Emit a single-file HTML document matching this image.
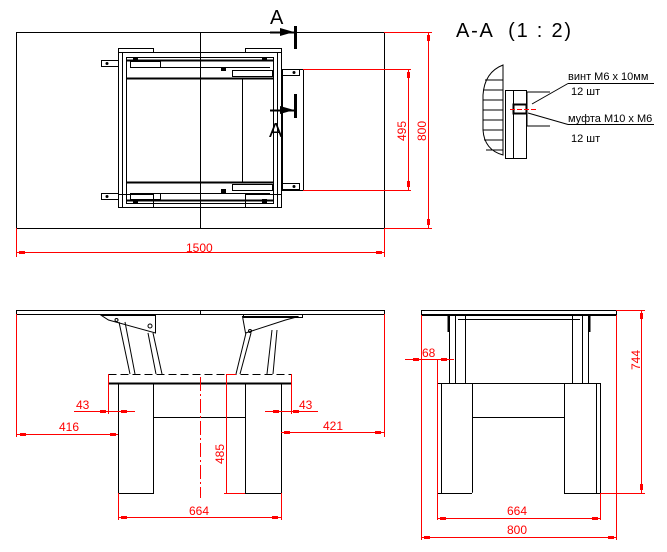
<!DOCTYPE html>
<html><head><meta charset="utf-8"><style>
html,body{margin:0;padding:0;background:#fff;}
svg{display:block;}
text{font-family:"Liberation Sans",sans-serif;}
</style></head><body>
<svg width="667" height="552" viewBox="0 0 667 552" xmlns="http://www.w3.org/2000/svg">
<g fill="none" stroke="#000" stroke-width="1">
<!-- TOP VIEW -->
<rect x="16.5" y="32.5" width="368" height="196"/>
<line x1="200.5" y1="32" x2="200.5" y2="228"/>
<rect x="118.5" y="48.5" width="35" height="4"/>
<rect x="245.5" y="48.5" width="36" height="4"/>
<rect x="118.5" y="194.5" width="35" height="13"/>
<rect x="245.5" y="194.5" width="36" height="13"/>
<rect x="118.5" y="52.5" width="4" height="155"/>
<rect x="277.5" y="52.5" width="4" height="155"/>
<rect x="122.5" y="52.5" width="155" height="155"/>
<rect x="126.5" y="57.5" width="147" height="146"/>
<line x1="126" y1="78.5" x2="274" y2="78.5" stroke-width="2"/>
<line x1="126" y1="182.5" x2="274" y2="182.5" stroke-width="2"/>
<line x1="126" y1="60.5" x2="274" y2="60.5" stroke-width="2"/>
<line x1="126" y1="200.5" x2="274" y2="200.5" stroke-width="2"/>
<line x1="130" y1="67.5" x2="270" y2="67.5"/>
<line x1="130" y1="193.5" x2="270" y2="193.5"/>
<rect x="232.5" y="70.5" width="40" height="6"/>
<rect x="232.5" y="184.5" width="40" height="6"/>
<rect x="130.5" y="61.5" width="30" height="6"/>
<rect x="130.5" y="193.5" width="30" height="6"/>
<line x1="242.5" y1="78" x2="242.5" y2="182"/>
<rect x="101.5" y="60.5" width="17" height="6"/>
<rect x="101.5" y="193.5" width="17" height="6"/>
<rect x="282.5" y="69.5" width="17" height="6"/>
<rect x="282.5" y="183.5" width="17" height="6"/>
<rect x="282.5" y="69.5" width="21" height="121"/>
<line x1="295.5" y1="26" x2="295.5" y2="49" stroke-width="3"/>
<line x1="270" y1="32.5" x2="294" y2="32.5" stroke-width="2"/>
<line x1="295.5" y1="94" x2="295.5" y2="118" stroke-width="3"/>
<line x1="270" y1="110.5" x2="294" y2="110.5" stroke-width="2"/>
</g>
<g fill="#000">
<polygon points="294,32 280,28 280,36"/>
<polygon points="294,110 280,106 280,114"/>
<circle cx="107" cy="63.5" r="1.5"/><circle cx="107" cy="196.5" r="1.5"/>
<circle cx="294" cy="72.5" r="1.5"/><circle cx="294" cy="186.5" r="1.5"/>
<rect x="133" y="57" width="5" height="4"/><rect x="221" y="67" width="5" height="4"/><rect x="262" y="57" width="5" height="4"/>
<rect x="133" y="199" width="5" height="4"/><rect x="221" y="189" width="5" height="4"/><rect x="262" y="199" width="5" height="4"/>
</g>
<g font-size="20" fill="#000">
<text x="270" y="24">A</text>
<text x="269" y="137">A</text>
<text x="456" y="37" textLength="115" lengthAdjust="spacing" xml:space="preserve">A-A  (1 : 2)</text>
</g>

<g stroke="#f00" fill="none" stroke-width="1">
<line x1="16.5" y1="228" x2="16.5" y2="257"/>
<line x1="384.5" y1="228" x2="384.5" y2="257"/>
<line x1="16" y1="252.5" x2="384" y2="252.5"/>
<line x1="384" y1="32.5" x2="432" y2="32.5"/>
<line x1="384" y1="228.5" x2="432" y2="228.5"/>
<line x1="428.5" y1="32" x2="428.5" y2="228"/>
<line x1="303" y1="69.5" x2="411" y2="69.5"/>
<line x1="303" y1="190.5" x2="411" y2="190.5"/>
<line x1="408.5" y1="69" x2="408.5" y2="190"/>
</g>
<g fill="#f00">
<rect x="19" y="251" width="6" height="3"/><rect x="376" y="251" width="6" height="3"/>
<rect x="427" y="35" width="3" height="6"/><rect x="427" y="219" width="3" height="6"/>
<rect x="407" y="72" width="3" height="6"/><rect x="407" y="181" width="3" height="6"/>
</g>
<g fill="#f00" font-size="12">
<text x="186" y="252">1500</text>
<text transform="translate(406,141) rotate(-90)">495</text>
<text transform="translate(426,141) rotate(-90)">800</text>
</g>

<!-- FRONT VIEW -->
<g fill="none" stroke="#000" stroke-width="1">
<path d="M16.5,314.5 V310.5 H384.5 V314.5 Z"/>
<line x1="16" y1="314.5" x2="384" y2="314.5"/>
<line x1="200.5" y1="310" x2="200.5" y2="314"/>
<polygon points="101.5,315.5 155.5,315.5 155.5,333 108.5,320"/>
<polygon points="242.5,316.5 298.5,316.5 285.5,320 245.5,333"/>
<rect x="243.5" y="314.5" width="59" height="3"/>
<path d="M119,322 L130,374 M125,322 L135,374 M148,333 L156,374 M153,333 L162,374"/>
<path d="M251,333 L240,374 M246,333 L236,374 M272,330 L267,374 M277,330 L273,374"/>
<circle cx="116.5" cy="320" r="1.5"/><circle cx="150" cy="326" r="2"/>
<circle cx="250" cy="331" r="1.5"/>
<rect x="108.5" y="374.5" width="183" height="9" stroke-dasharray="8,4"/>
<line x1="108" y1="383.5" x2="291" y2="383.5" stroke-width="2"/>
<rect x="118.5" y="383.5" width="35" height="110"/>
<rect x="245.5" y="383.5" width="36" height="110"/>
<line x1="153" y1="417.5" x2="245" y2="417.5"/>
</g>
<g stroke="#f00" fill="none" stroke-width="1">
<line x1="200.5" y1="377" x2="200.5" y2="498" stroke-dasharray="14,3,2,3"/>
<line x1="16.5" y1="314" x2="16.5" y2="437"/>
<line x1="384.5" y1="314" x2="384.5" y2="437"/>
<line x1="16" y1="434.5" x2="118" y2="434.5"/>
<line x1="281" y1="432.5" x2="384" y2="432.5"/>
<line x1="108.5" y1="374" x2="108.5" y2="414"/>
<line x1="291.5" y1="374" x2="291.5" y2="414"/>
<line x1="74" y1="411.5" x2="135" y2="411.5"/>
<line x1="265" y1="411.5" x2="318" y2="411.5"/>
<line x1="226.5" y1="374" x2="226.5" y2="493"/>
<line x1="226" y1="374.5" x2="236" y2="374.5"/>
<line x1="224" y1="493.5" x2="245" y2="493.5"/>
<line x1="118.5" y1="493" x2="118.5" y2="520"/>
<line x1="281.5" y1="493" x2="281.5" y2="520"/>
<line x1="118" y1="517.5" x2="281" y2="517.5"/>
</g>
<g fill="#f00">
<rect x="20" y="433" width="6" height="3"/><rect x="110" y="433" width="6" height="3"/>
<rect x="284" y="431" width="6" height="3"/><rect x="375" y="431" width="6" height="3"/>
<rect x="121" y="516" width="6" height="3"/><rect x="272" y="516" width="6" height="3"/>
<rect x="100" y="410" width="6" height="3"/><rect x="121" y="410" width="6" height="3"/>
<rect x="273" y="410" width="6" height="3"/><rect x="293" y="410" width="6" height="3"/>
</g>
<g fill="#f00" font-size="12">
<text x="76" y="409">43</text>
<text x="299" y="409">43</text>
<text x="59" y="431">416</text>
<text x="323" y="430">421</text>
<text transform="translate(224,464) rotate(-90)">485</text>
<text x="189" y="515">664</text>
</g>

<!-- SIDE VIEW -->
<g fill="none" stroke="#000" stroke-width="1">
<rect x="421.5" y="310.5" width="195" height="4"/>
<line x1="421" y1="315" x2="616" y2="315" stroke-width="2"/>
<line x1="458" y1="319.5" x2="580" y2="319.5"/>
<rect x="449.5" y="315.5" width="6" height="68"/>
<rect x="455.5" y="315.5" width="10" height="68"/>
<rect x="572.5" y="315.5" width="10" height="68"/>
<rect x="582.5" y="315.5" width="6" height="68"/>
<line x1="448.5" y1="316" x2="448.5" y2="332" stroke-width="2"/>
<line x1="589.5" y1="316" x2="589.5" y2="332" stroke-width="2"/>
<rect x="437.5" y="383.5" width="163" height="110"/>
<line x1="441.5" y1="383" x2="441.5" y2="493"/>
<line x1="596.5" y1="383" x2="596.5" y2="493"/>
<line x1="472.5" y1="383" x2="472.5" y2="493"/>
<line x1="564.5" y1="383" x2="564.5" y2="493"/>
<line x1="472" y1="493.5" x2="564" y2="493.5" stroke="#fff" stroke-width="1.5"/>
<line x1="472" y1="417.5" x2="564" y2="417.5"/>
</g>
<g stroke="#f00" fill="none" stroke-width="1">
<line x1="421.5" y1="315" x2="421.5" y2="540"/>
<line x1="616.5" y1="315" x2="616.5" y2="540"/>
<line x1="616" y1="310.5" x2="645" y2="310.5"/>
<line x1="600" y1="493.5" x2="645" y2="493.5"/>
<line x1="641.5" y1="310" x2="641.5" y2="493"/>
<line x1="405" y1="359.5" x2="454" y2="359.5"/>
<line x1="437.5" y1="359" x2="437.5" y2="520"/>
<line x1="600.5" y1="493" x2="600.5" y2="520"/>
<line x1="437" y1="518.5" x2="600" y2="518.5"/>
<line x1="421" y1="537.5" x2="616" y2="537.5"/>
</g>
<g fill="#f00">
<rect x="640" y="313" width="3" height="6"/><rect x="640" y="484" width="3" height="6"/>
<rect x="440" y="517" width="6" height="3"/><rect x="592" y="517" width="6" height="3"/>
<rect x="424" y="536" width="6" height="3"/><rect x="608" y="536" width="6" height="3"/>
<rect x="413" y="358" width="6" height="3"/><rect x="441" y="358" width="6" height="3"/>
</g>
<g fill="#f00" font-size="12">
<text x="422" y="357">68</text>
<text transform="translate(640,370) rotate(-90)">744</text>
<text x="507" y="515">664</text>
<text x="507" y="534">800</text>
</g>

<!-- SECTION A-A detail -->
<g fill="none" stroke="#000" stroke-width="1">
<path d="M503,65 C490,70 484,80 483,95 V130 C484,145 492,152 503,155 Z"/>
<path d="M485,80H503 M484,90H503 M483,100H503 M483,110H503 M483,120H503 M483,130H503 M484,140H503 M486,150H503"/>
<rect x="505.5" y="90.5" width="21" height="68"/>
<line x1="513.5" y1="90" x2="513.5" y2="158"/>
<rect x="513.5" y="104.5" width="13" height="9" stroke-width="2"/>
<path d="M527,92 H550 M527,126 H550 M527,92 V104 M527,113 V126"/>
<line x1="568" y1="83.5" x2="654" y2="83.5"/>
<line x1="568" y1="83.5" x2="532" y2="104"/>
<line x1="568" y1="124.5" x2="654" y2="124.5"/>
<line x1="568" y1="124.5" x2="528" y2="113"/>
</g>
<line x1="510" y1="109.5" x2="537" y2="109.5" stroke="#f00" stroke-dasharray="5,2"/>
<g font-size="11" fill="#000">
<text x="568" y="80">винт М6 х 10мм</text>
<text x="571" y="95">12 шт</text>
<text x="568" y="122">муфта М10 х М6</text>
<text x="571" y="142">12 шт</text>
</g>
</svg>
</body></html>
